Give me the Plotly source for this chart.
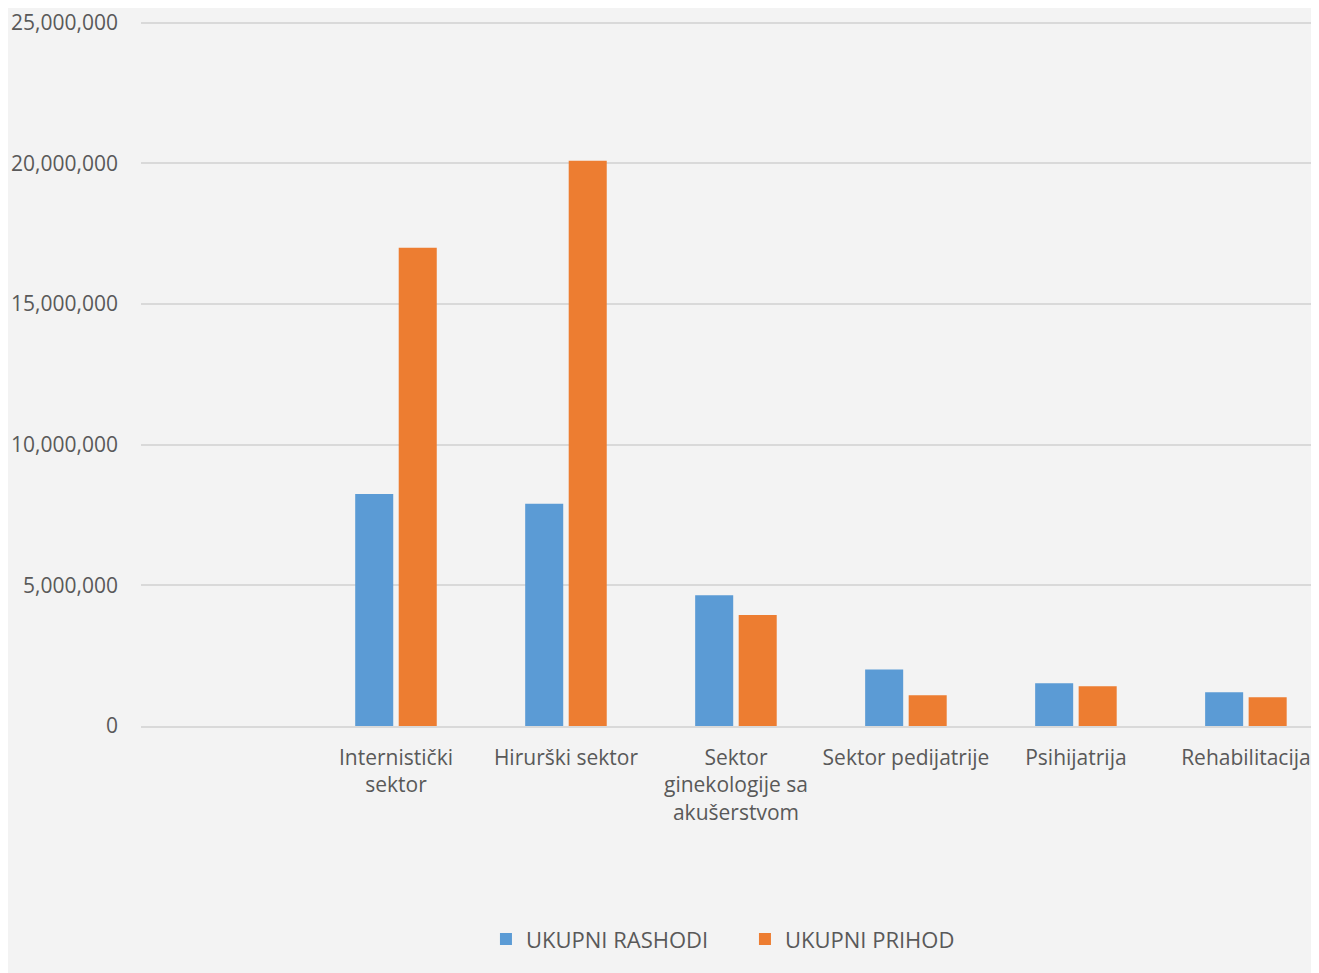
import plotly.graph_objects as go

categories = [" ", "Internistički<br>sektor", "Hirurški sektor",
              "Sektor<br>ginekologije sa<br>akušerstvom", "Sektor pedijatrije",
              "Psihijatrija", "Rehabilitacija"]
rashodi = [None, 8250000, 7900000, 4650000, 2010000, 1520000, 1200000]
prihod = [None, 17000000, 20100000, 3950000, 1090000, 1410000, 1020000]
y_ticks = [0, 5000000, 10000000, 15000000, 20000000, 25000000]
y_labels = ["0", "5,000,000", "10,000,000", "15,000,000", "20,000,000", "25,000,000"]

fig = go.Figure()
fig.add_trace(go.Bar(x=categories, y=rashodi, name="UKUPNI RASHODI",
                     marker=dict(color="#5B9BD5", line=dict(width=0))))
fig.add_trace(go.Bar(x=categories, y=prihod, name="UKUPNI PRIHOD",
                     marker=dict(color="#ED7D31", line=dict(width=0))))

fig.update_layout(
    width=1311, height=965,
    margin=dict(l=133, r=0, t=6, b=247),
    paper_bgcolor="#f3f3f3", plot_bgcolor="#f3f3f3",
    barmode="group", bargap=0.488, bargroupgap=0.126,
    font=dict(family="Open Sans", size=21, color="#595959"),
    showlegend=True,
    legend=dict(orientation="h", x=0.5127, xanchor="center", y=-0.302, yanchor="middle",
                font=dict(size=22, color="#595959"),
                entrywidth=214, entrywidthmode="pixels",
                bgcolor="rgba(0,0,0,0)", traceorder="normal"),
)
fig.update_xaxes(type="category", range=[-0.5, 6.43], showgrid=False,
                 showline=True, linecolor="#d9d9d9", linewidth=1.5,
                 ticks="", tickangle=0, ticklabelstandoff=12,
                 tickfont=dict(size=21, color="#595959"))
fig.update_yaxes(range=[0, 25100000], tickvals=y_ticks, ticktext=y_labels,
                 showgrid=True, gridcolor="#d9d9d9", gridwidth=1.5,
                 zeroline=False, showline=False, ticks="",
                 ticklabeloverflow="allow",
                 ticklabelstandoff=22, tickfont=dict(size=21, color="#595959"))

fig.write_html("out.html")
